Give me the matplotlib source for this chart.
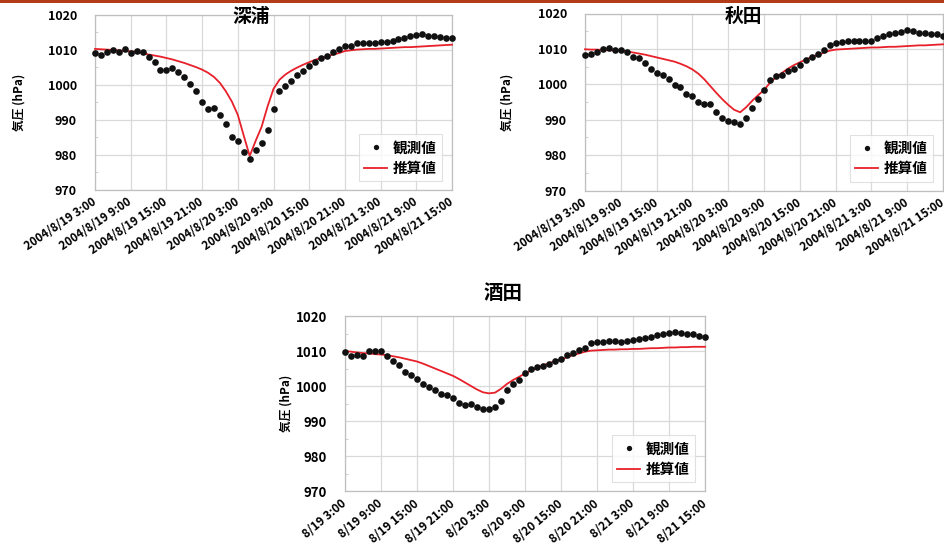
import numpy as np
import matplotlib.pyplot as plt
from matplotlib.patches import Rectangle
from matplotlib.ticker import MultipleLocator

plt.rcParams['font.family'] = ['Noto Sans CJK JP', 'DejaVu Sans']
plt.rcParams['font.weight'] = 'bold'

# hourly pressure, 2004/8/19 3:00 .. 2004/8/21 15:00
hours = np.arange(61)

fukaura_obs = [1008.9, 1008.6, 1009.2, 1010.0, 1009.3, 1010.3, 1009.0, 1009.5, 1009.2, 1007.9,
               1006.6, 1004.3, 1004.1, 1004.8, 1003.7, 1002.2, 1000.2, 998.3, 995.0, 993.0,
               993.3, 991.4, 988.7, 985.2, 984.1, 980.7, 978.9, 981.4, 983.3, 987.0,
               993.2, 998.1, 999.7, 1001.1, 1002.8, 1004.0, 1005.4, 1006.6, 1007.6, 1008.3,
               1009.2, 1010.2, 1011.0, 1011.1, 1011.9, 1011.9, 1011.8, 1011.9, 1012.1, 1012.1,
               1012.5, 1013.0, 1013.3, 1013.8, 1014.2, 1014.4, 1014.0, 1013.8, 1013.6, 1013.3,
               1013.2]
fukaura_est = [1010.2, 1010.1, 1010.0, 1009.9, 1009.8, 1009.6, 1009.5, 1009.3, 1009.0, 1008.6,
               1008.3, 1008.0, 1007.6, 1007.2, 1006.7, 1006.2, 1005.6, 1005.0, 1004.3, 1003.4,
               1002.2, 1000.5, 998.1, 995.2, 991.4, 985.5, 979.7, 984.0, 988.0, 993.8,
               998.8, 1001.4, 1002.9, 1004.0, 1004.9, 1005.7, 1006.4, 1007.1, 1007.6, 1008.1,
               1008.6, 1009.0, 1009.6, 1009.8, 1010.0, 1010.1, 1010.2, 1010.2, 1010.3, 1010.4,
               1010.5, 1010.6, 1010.7, 1010.7, 1010.8, 1010.9, 1011.0, 1011.1, 1011.2, 1011.3,
               1011.4]

akita_obs = [1008.4, 1008.5, 1009.0, 1009.9, 1010.3, 1009.8, 1009.7, 1009.0, 1007.6, 1007.5,
             1006.1, 1004.2, 1003.3, 1002.5, 1001.5, 999.9, 999.1, 997.4, 996.7, 995.1,
             994.3, 994.3, 992.3, 990.6, 989.7, 989.3, 988.8, 990.6, 993.2, 995.8,
             998.4, 1001.2, 1002.3, 1002.6, 1003.8, 1004.2, 1005.4, 1006.8, 1007.6, 1008.7,
             1009.7, 1011.1, 1011.7, 1012.0, 1012.2, 1012.3, 1012.2, 1012.2, 1012.3, 1013.0,
             1013.7, 1014.2, 1014.5, 1014.8, 1015.3, 1015.0, 1014.6, 1014.4, 1014.2, 1014.2,
             1013.6]
akita_est = [1009.9, 1009.8, 1009.8, 1009.7, 1009.6, 1009.6, 1009.5, 1009.3, 1009.0, 1008.7,
             1008.4, 1008.0, 1007.6, 1007.2, 1006.8, 1006.4, 1005.8, 1005.1, 1004.2, 1003.0,
             1001.4, 999.5, 997.6, 995.8, 994.2, 992.8, 992.1, 993.5, 995.3, 996.9,
             998.4, 1000.4, 1002.0, 1003.2, 1004.4, 1005.4, 1006.2, 1007.0, 1007.7, 1008.3,
             1008.9, 1009.5, 1009.8, 1009.9, 1010.0, 1010.1, 1010.2, 1010.3, 1010.4, 1010.4,
             1010.5, 1010.6, 1010.6, 1010.7, 1010.8, 1010.9, 1011.0, 1011.0, 1011.1, 1011.2,
             1011.3]

sakata_obs = [1009.6, 1008.6, 1008.9, 1008.6, 1010.0, 1010.0, 1010.0, 1008.6, 1007.2, 1006.0,
              1004.1, 1003.1, 1001.9, 1000.6, 999.8, 998.9, 997.7, 997.4, 996.7, 995.2,
              994.6, 994.8, 994.1, 993.5, 993.3, 993.9, 995.8, 999.0, 1000.6, 1001.7,
              1003.6, 1004.9, 1005.5, 1005.7, 1006.3, 1007.1, 1007.8, 1008.9, 1009.3, 1010.3,
              1011.0, 1012.4, 1012.7, 1012.7, 1013.0, 1013.0, 1012.7, 1013.0, 1013.1, 1013.3,
              1013.8, 1014.1, 1014.6, 1014.9, 1015.2, 1015.5, 1015.2, 1015.0, 1014.8, 1014.3,
              1013.9]
sakata_est = [1010.0, 1009.8, 1009.6, 1009.4, 1009.3, 1009.1, 1009.0, 1008.8, 1008.5, 1008.2,
              1007.8, 1007.4, 1007.0, 1006.4, 1005.7, 1005.0, 1004.3, 1003.6, 1002.9, 1002.0,
              1001.0, 1000.0, 999.0, 998.2, 997.9, 998.1, 999.2, 1000.6, 1001.7, 1002.6,
              1003.6, 1004.4, 1005.2, 1005.9, 1006.5, 1007.1, 1007.6, 1008.2, 1008.8, 1009.3,
              1009.8, 1010.1, 1010.2, 1010.3, 1010.4, 1010.4, 1010.5, 1010.5, 1010.6, 1010.6,
              1010.7, 1010.8, 1010.8, 1010.9, 1011.0, 1011.0, 1011.1, 1011.1, 1011.2, 1011.2,
              1011.2]

tick_pos = [0, 6, 12, 18, 24, 30, 36, 42, 48, 54, 60]
labels_full = ['2004/8/19 3:00', '2004/8/19 9:00', '2004/8/19 15:00', '2004/8/19 21:00',
               '2004/8/20 3:00', '2004/8/20 9:00', '2004/8/20 15:00', '2004/8/20 21:00',
               '2004/8/21 3:00', '2004/8/21 9:00', '2004/8/21 15:00']
labels_short = ['8/19 3:00', '8/19 9:00', '8/19 15:00', '8/19 21:00', '8/20 3:00', '8/20 9:00',
                '8/20 15:00', '8/20 21:00', '8/21 3:00', '8/21 9:00', '8/21 15:00']

W, H = 944, 553
fig = plt.figure(figsize=(W / 100, H / 100), dpi=100)
fig.add_artist(Rectangle((0, 1 - 3 / H), 1, 3 / H, transform=fig.transFigure,
                         color='#b23c17', lw=0))


def px_axes(l, t, r, b):
    return fig.add_axes([l / W, 1 - b / H, (r - l) / W, (b - t) / H])


def draw(ax, obs, est, title, title_xy, ylab_x, labels, rot, yfs, tfs, xfs):
    ax.plot(hours, obs, 'o', color='#111111', ms=4.8, mew=0, label='観測値', clip_on=False, zorder=4)
    ax.plot(hours, est, '-', color='#e8202a', lw=1.3, label='推算値', clip_on=False, zorder=3)
    ax.set_xlim(0, 60)
    ax.set_ylim(970, 1020)
    ax.set_yticks(np.arange(970, 1021, 10))
    ax.yaxis.set_minor_locator(MultipleLocator(5))
    ax.set_xticks(tick_pos)
    ax.set_xticklabels(labels, rotation=rot, ha='right', va='center', rotation_mode='anchor',
                       fontsize=xfs, fontweight='bold')
    ax.tick_params(axis='x', length=0, pad=8)
    ax.tick_params(axis='y', which='major', length=0, pad=13, labelsize=yfs)
    ax.tick_params(axis='y', which='minor', direction='in', length=2.5, color='#c8c8c8')
    ax.grid(True, which='major', color='#d9d9d9', lw=0.9)
    ax.set_axisbelow(True)
    for s in ax.spines.values():
        s.set_color('#bfbfbf')
        s.set_linewidth(0.9)
    bb = ax.get_window_extent()
    leg = ax.legend(loc='lower right', fontsize=10.5, frameon=True, fancybox=False,
                    edgecolor='#d9d9d9', handlelength=1.6, handletextpad=0.4,
                    borderpad=0.35, labelspacing=0.3, markerscale=0.8, borderaxespad=0,
                    bbox_to_anchor=(1 - 10 / bb.width, 9 / bb.height))
    leg.get_frame().set_linewidth(0.8)
    fig.text(title_xy[0] / W, 1 - title_xy[1] / H, title, ha='center', va='center',
             fontsize=tfs, fontweight='bold')
    y0 = ax.get_position().y0 + ax.get_position().height / 2
    fig.text(ylab_x / W, y0, '気圧 (hPa)', rotation=90, ha='center', va='center',
             fontsize=8.5, fontweight='bold')


ax1 = px_axes(95, 14.5, 452, 190)
draw(ax1, fukaura_obs, fukaura_est, '深浦', (251, 16.5), 19, labels_full, 34, 9, 13.5, 8.3)

ax2 = px_axes(585, 13.5, 943, 190.5)
draw(ax2, akita_obs, akita_est, '秋田', (743, 16.5), 507, labels_full, 34, 9, 13.5, 8.3)

ax3 = px_axes(345, 316, 705, 491)
draw(ax3, sakata_obs, sakata_est, '酒田', (503, 293.5), 286, labels_short, 40, 9.5, 14, 8.5)

fig.savefig('out.png', dpi=100)
